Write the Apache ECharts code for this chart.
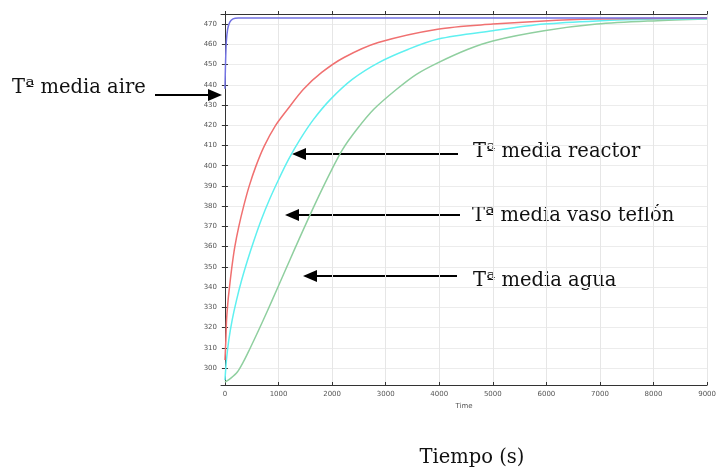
<!DOCTYPE html>
<html>
<head>
<meta charset="utf-8">
<script src="https://cdn.jsdelivr.net/npm/echarts@6/dist/echarts.min.js"></script>
<style>html,body{margin:0;padding:0;background:#fff}#c{width:719px;height:471px}</style>
</head>
<body>
<div id="c"></div>
<script>
// x tick values (s) and y tick values (K)
const xTicks = [0, 1000, 2000, 3000, 4000, 5000, 6000, 7000, 8000, 9000];
const yTicks = [300, 310, 320, 330, 340, 350, 360, 370, 380, 390, 400, 410, 420, 430, 440, 450, 460, 470];

// Tª media aire
const aireTime = [0, 10, 25, 50, 90, 150, 250, 9000];
const aireTemp = [438, 450, 461, 467.5, 471, 472.6, 473, 473];

// Tª media reactor
const reactorTime = [0, 17, 30, 59, 93, 135, 185, 259, 348, 452, 578, 733, 937, 1169, 1465, 1806, 2222, 2861, 3970, 5000, 5957, 6944, 8000, 9000];
const reactorTemp = [304, 313.9, 323.8, 333.7, 342, 351.1, 360.1, 370, 379.9, 389.9, 399.8, 409.7, 419.6, 427.9, 437.8, 446.1, 453.5, 460.9, 467.5, 470, 471.6, 472.5, 472.8, 473];

// Tª media vaso teflón
const teflonTime = [0, 28, 72, 135, 217, 313, 424, 546, 680, 831, 1002, 1187, 1402, 1654, 1969, 2376, 2870, 3426, 3981, 5000, 5957, 6944, 8056, 9000];
const teflonTemp = [294, 304, 313.9, 323.8, 333.7, 343.6, 353.5, 363.4, 373.4, 383.3, 393.2, 403.1, 413, 422.9, 432.8, 442.7, 451, 457.6, 462.6, 466.7, 470, 471.6, 472.5, 472.7];

// Tª media agua
const aguaTime = [0, 111, 231, 343, 454, 630, 800, 967, 1131, 1296, 1463, 1633, 1809, 1994, 2194, 2463, 2778, 3204, 3574, 3981, 4537, 5000, 5957, 6944, 7994, 9000];
const aguaTemp = [293, 295, 298, 303, 308.9, 318.8, 328.7, 338.7, 348.6, 358.5, 368.4, 378.3, 388.2, 398.1, 408, 418, 427.9, 437.8, 445.2, 451, 457.6, 461.7, 466.7, 470, 471.6, 472.5];

function pairs(t, v) { return t.map((x, i) => [x, v[i]]); }

const chart = echarts.init(document.getElementById('c'), null, {renderer: 'canvas'});
const lblStyle = {fontSize: 7, color: '#555', fontFamily: 'DejaVu Sans', formatter: v => String(v)};
const serif = 'DejaVu Serif';
const fs = 19.5;

function line(name, t, v, color) {
  return {
    name, type: 'line', data: pairs(t, v), showSymbol: false, smooth: 0.3,
    lineStyle: {color, width: 1.5}, itemStyle: {color},
    xAxisIndex: 0, yAxisIndex: 0, animation: false, z: 3
  };
}

chart.setOption({
  backgroundColor: '#fff',
  animation: false,
  grid: {left: 221, top: 14, width: 490, height: 371},
  xAxis: [{
    type: 'value', min: -74, max: 9000, position: 'bottom',
    name: 'Time', nameLocation: 'middle', nameGap: 18,
    nameTextStyle: {fontSize: 7, color: '#555', fontFamily: 'DejaVu Sans'},
    axisLine: {show: true, lineStyle: {color: '#333', width: 1}},
    axisTick: {show: true, inside: true, length: 3, customValues: xTicks, lineStyle: {color: '#333'}},
    axisLabel: Object.assign({customValues: xTicks, margin: 6}, lblStyle),
    splitLine: {show: true, lineStyle: {color: '#e6e6e6', width: 1}}
  }, {
    type: 'value', min: -74, max: 9000, position: 'top',
    axisLine: {show: true, lineStyle: {color: '#333', width: 1}},
    axisTick: {show: true, inside: false, length: 3, customValues: xTicks, lineStyle: {color: '#333'}},
    axisLabel: {show: false}, splitLine: {show: false}
  }],
  yAxis: [{
    type: 'value', min: 291.6, max: 475, position: 'left',
    axisLine: {show: true, lineStyle: {color: '#333', width: 1}},
    axisTick: {show: true, inside: true, length: 3, customValues: yTicks, lineStyle: {color: '#333'}},
    axisLabel: Object.assign({customValues: yTicks, margin: 4}, lblStyle),
    splitLine: {show: true, lineStyle: {color: '#ececec', width: 1}}
  }, {
    type: 'value', min: 291.6, max: 475, position: 'right',
    axisLine: {show: true, lineStyle: {color: '#333', width: 1}},
    axisTick: {show: true, inside: true, length: 3, customValues: yTicks, lineStyle: {color: '#333'}},
    axisLabel: {show: false}, splitLine: {show: false}
  }],
  series: [
    line('Tª media agua', aguaTime, aguaTemp, '#8fcf9f'),
    line('Tª media vaso teflón', teflonTime, teflonTemp, '#5ff0f0'),
    line('Tª media reactor', reactorTime, reactorTemp, '#f07070'),
    line('Tª media aire', aireTime, aireTemp, '#7272e2')
  ],
  graphic: [
    {type: 'text', x: 12, y: 88, style: {text: 'Tª media aire', font: fs + 'px "' + serif + '"', fill: '#111', verticalAlign: 'middle'}},
    {type: 'text', x: 473, y: 151.5, style: {text: 'Tª media reactor', font: fs + 'px "' + serif + '"', fill: '#111', verticalAlign: 'middle'}},
    {type: 'text', x: 472, y: 216, style: {text: 'Tª media vaso teflón', font: fs + 'px "' + serif + '"', fill: '#111', verticalAlign: 'middle'}},
    {type: 'text', x: 473, y: 281, style: {text: 'Tª media agua', font: fs + 'px "' + serif + '"', fill: '#111', verticalAlign: 'middle'}},
    {type: 'text', x: 472, y: 458, style: {text: 'Tiempo (s)', font: fs + 'px "' + serif + '"', fill: '#111', verticalAlign: 'middle', align: 'center'}},
    {type: 'line', shape: {x1: 155, y1: 95, x2: 210, y2: 95}, style: {stroke: '#000', lineWidth: 2}},
    {type: 'polygon', shape: {points: [[222, 95], [208, 89], [208, 101]]}, style: {fill: '#000'}},
    {type: 'line', shape: {x1: 304, y1: 154, x2: 458, y2: 154}, style: {stroke: '#000', lineWidth: 2}},
    {type: 'polygon', shape: {points: [[292, 154], [306, 148], [306, 160]]}, style: {fill: '#000'}},
    {type: 'line', shape: {x1: 297, y1: 215, x2: 460, y2: 215}, style: {stroke: '#000', lineWidth: 2}},
    {type: 'polygon', shape: {points: [[285, 215], [299, 209], [299, 221]]}, style: {fill: '#000'}},
    {type: 'line', shape: {x1: 315, y1: 276, x2: 457, y2: 276}, style: {stroke: '#000', lineWidth: 2}},
    {type: 'polygon', shape: {points: [[303, 276], [317, 270], [317, 282]]}, style: {fill: '#000'}}
  ]
});
</script>
</body>
</html>
